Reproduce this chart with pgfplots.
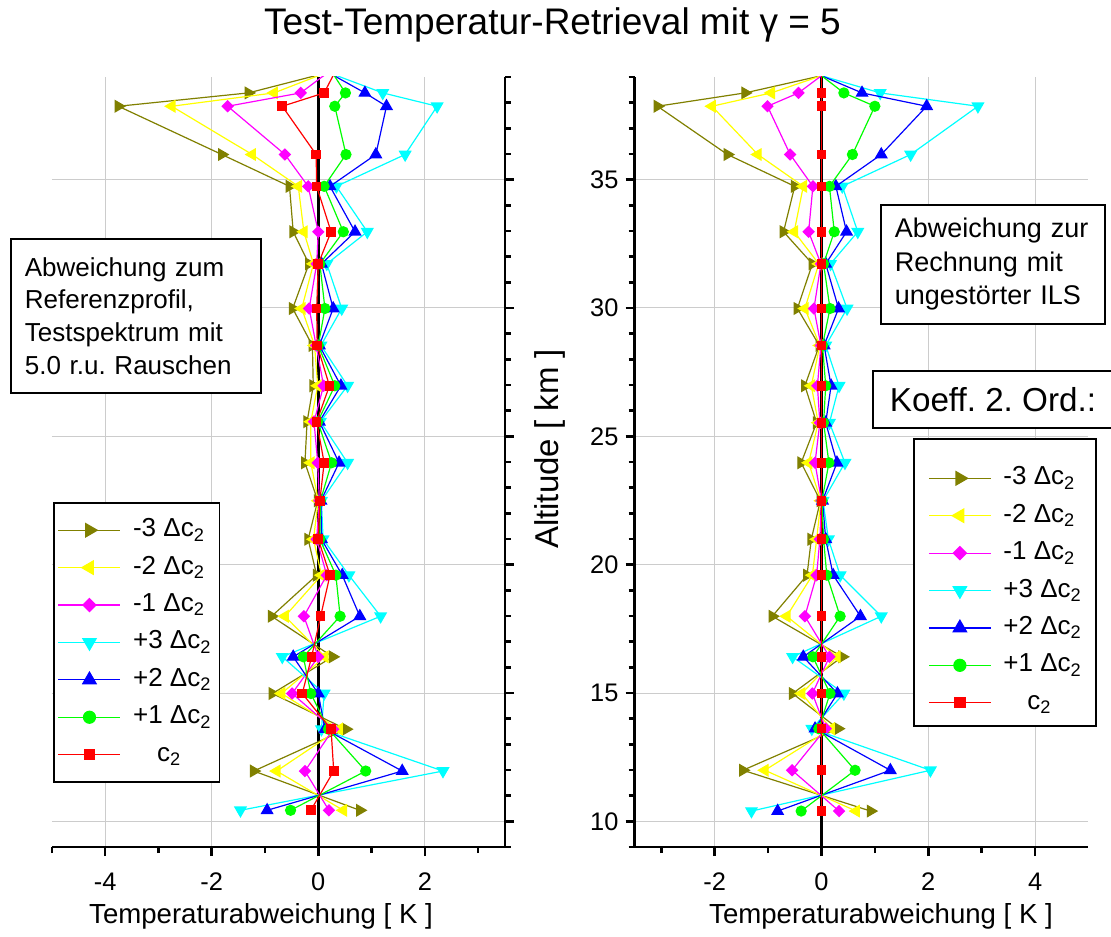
\documentclass[border=0pt]{standalone}
\usepackage{fontspec}
\setmainfont{Liberation Sans}
\usepackage{pgfplots}
\usepackage{pgfplotstable}
\pgfplotsset{compat=1.18}
\frenchspacing

\definecolor{olv}{RGB}{128,128,0}
\definecolor{yel}{RGB}{255,255,0}
\definecolor{mag}{RGB}{255,0,255}
\definecolor{cya}{RGB}{0,255,255}
\definecolor{blu}{RGB}{0,0,255}
\definecolor{grn}{RGB}{0,255,0}
\definecolor{rd}{RGB}{255,0,0}
\definecolor{gridgray}{RGB}{204,204,204}

% left panel: deviation from reference profile
\pgfplotstableread{
alt    m3     m2     m1     p3     p2     p1     c
39.5   0.79   0.56   0.39  -0.23  -0.09   0.16   0.39
38.38 -1.31  -0.83  -0.33   1.21   0.875  0.51   0.11
37.86 -3.75  -2.75  -1.70   2.23   1.28   0.31  -0.675
35.98 -1.81  -1.24  -0.625  1.63   1.08   0.52  -0.04
34.74 -0.54  -0.375 -0.19   0.34   0.22   0.11  -0.03
32.97 -0.47  -0.27   0.0    0.92   0.69   0.47   0.24
31.72 -0.175 -0.09  -0.03   0.16   0.06   0.03   0.0
29.98 -0.48  -0.31  -0.17   0.44   0.28   0.125 -0.03
28.54 -0.11  -0.07  -0.04   0.05   0.02   0.0   -0.02
26.97 -0.094 -0.01   0.10   0.55   0.425  0.31   0.21
25.57 -0.21  -0.14  -0.08   0.04   0.02  -0.01  -0.03
23.97 -0.25  -0.14  -0.01   0.55   0.39   0.25   0.11
22.49 -0.01   0.0    0.02   0.06   0.05   0.04   0.03
20.99 -0.19  -0.09  -0.03   0.09   0.06   0.03   0.0
19.59 -0.03   0.06   0.16   0.575  0.45   0.33   0.22
17.99 -0.875 -0.625 -0.27   1.17   0.78   0.41   0.044
16.41  0.27   0.125  0.0   -0.675 -0.47  -0.28  -0.125
14.98 -0.86  -0.69  -0.49   0.11   0.0   -0.14  -0.30
13.59  0.52   0.39   0.28   0.06   0.125  0.19   0.24
11.96 -1.21  -0.78  -0.25   2.34   1.575  0.89   0.29
10.43  0.78   0.47   0.20  -1.46  -0.96  -0.52  -0.14
}\leftdata

% right panel: deviation from undisturbed ILS
\pgfplotstableread{
alt    m3     m2     m1     p3     p2     p1     c
39.5   0.96   0.63   0.29  -0.74  -0.51  -0.28   0
38.38 -1.43  -0.94  -0.43   1.10   0.76   0.42   0
37.86 -3.07  -2.05  -1.01   2.93   1.97   1.00   0
35.98 -1.76  -1.19  -0.585  1.67   1.12   0.58   0
34.74 -0.50  -0.34  -0.16   0.39   0.27   0.15   0
32.97 -0.71  -0.51  -0.24   0.68   0.47   0.24   0
31.72 -0.17  -0.05  -0.01   0.17   0.08   0.04   0
29.98 -0.45  -0.31  -0.14   0.48   0.32   0.16   0
28.54 -0.04  -0.03  -0.01   0.08   0.05   0.02   0
26.97 -0.31  -0.19  -0.075  0.33   0.18   0.08   0
25.53 -0.09  -0.06  -0.03   0.15   0.08   0.04   0
23.97 -0.38  -0.24  -0.12   0.44   0.29   0.14   0
22.49 -0.02  -0.01   0.0    0.03   0.02   0.01   0
20.99 -0.19  -0.09  -0.03   0.13   0.08   0.04   0
19.59 -0.27  -0.17  -0.09   0.35   0.22   0.10   0
17.99 -0.92  -0.65  -0.31   1.12   0.73   0.35   0
16.41  0.39   0.29   0.15  -0.54  -0.34  -0.16   0
14.98 -0.54  -0.37  -0.17   0.42   0.30   0.16   0
13.61  0.31   0.18   0.08  -0.18  -0.12  -0.05   0
11.99 -1.47  -1.06  -0.55   2.04   1.29   0.63   0
10.40  0.92   0.65   0.33  -1.31  -0.82  -0.38   0
}\rightdata

\pgfplotsset{
  panel/.style={
    scale only axis, height=385pt,
    ymin=9, ymax=39,
    axis x line*=bottom,
    tick align=outside,
    axis line style={-, line width=1.3pt},
    tick style={black, line width=1.3pt},
    major tick length=4.5pt, minor tick length=3pt,
    grid=major,
    major grid style={line width=0.5pt, gridgray},
    ytick={10,15,...,35}, minor ytick={9,...,39},
    clip marker paths=true,
    ticklabel style={font=\fontsize{12.7}{15}\selectfont},
    xticklabel style={yshift=-5pt},
    /pgf/number format/assume math mode=true,
    legend cell align=left,
    legend image code/.code={\draw[mark repeat=2,mark phase=2] plot coordinates {(2.5pt,0pt) (18pt,0pt) (33.5pt,0pt)};},
    legend image post style={every mark/.append style={scale=1.2}},
    legend style={draw=black, line width=0.9pt, fill=white,
      font=\fontsize{13}{15.5}\selectfont, anchor=north west,
      nodes={inner ysep=2pt, inner xsep=2pt, text height=9.5pt, text depth=3pt},
      row sep=2.2pt, column sep=4pt, inner xsep=2pt, inner ysep=5.4pt},
  },
  sm3/.style={olv, line width=0.6pt, mark=triangle*, mark size=3.2pt, mark options={rotate=-90}},
  sm2/.style={yel, line width=0.6pt, mark=triangle*, mark size=3.2pt, mark options={rotate=90}},
  sm1/.style={mag, line width=0.6pt, mark=square*, mark size=1.9pt, mark options={rotate=45}},
  sp3/.style={cya, line width=0.6pt, mark=triangle*, mark size=3.2pt, mark options={rotate=180}},
  sp2/.style={blu, line width=0.6pt, mark=triangle*, mark size=3.2pt},
  sp1/.style={grn, line width=0.6pt, mark=*, mark size=2.5pt},
  sc/.style={rd, line width=0.6pt, mark=square*, mark size=2.1pt},
}

\begin{document}
\begin{tikzpicture}

\begin{axis}[panel,
  at={(25.9pt,44.5pt)}, anchor=south west, width=226.5pt,
  xmin=-5, xmax=3.5,
  axis y line*=right,
  xtick={-4,-2,0,2}, minor xtick={-5,-3,-1,1,3},
  yticklabels={},
  legend style={at={(0.0026,0.448)}},
]
\addplot[black, line width=1.5pt, forget plot] coordinates {(0,9) (0,39)};
\addplot[sm3] table[x=m3, y=alt] {\leftdata};
\addlegendentry{-3 Δc\textsubscript{2}}
\addplot[sm2] table[x=m2, y=alt] {\leftdata};
\addlegendentry{-2 Δc\textsubscript{2}}
\addplot[sm1] table[x=m1, y=alt] {\leftdata};
\addlegendentry{-1 Δc\textsubscript{2}}
\addplot[sp3] table[x=p3, y=alt] {\leftdata};
\addlegendentry{+3 Δc\textsubscript{2}}
\addplot[sp2] table[x=p2, y=alt] {\leftdata};
\addlegendentry{+2 Δc\textsubscript{2}}
\addplot[sp1] table[x=p1, y=alt] {\leftdata};
\addlegendentry{+1 Δc\textsubscript{2}}
\addplot[sc] table[x=c, y=alt] {\leftdata};
\addlegendentry{\hspace{12pt}c\textsubscript{2}}
\end{axis}

\begin{axis}[panel,
  at={(317.25pt,44.5pt)}, anchor=south west, width=227pt,
  xmin=-3.5, xmax=5,
  axis y line*=left,
  xtick={-2,0,2,4}, minor xtick={-3,-1,1,3},
  legend style={at={(0.6134,0.5314)}, inner xsep=5pt, inner ysep=3.35pt},
]
\addplot[black, line width=1.5pt, forget plot] coordinates {(0,9) (0,39)};
\addlegendimage{empty legend}
\addlegendentry[text height=2pt, text depth=0pt]{}
\addplot[sm3] table[x=m3, y=alt] {\rightdata};
\addlegendentry{-3 Δc\textsubscript{2}}
\addplot[sm2] table[x=m2, y=alt] {\rightdata};
\addlegendentry{-2 Δc\textsubscript{2}}
\addplot[sm1] table[x=m1, y=alt] {\rightdata};
\addlegendentry{-1 Δc\textsubscript{2}}
\addplot[sp3] table[x=p3, y=alt] {\rightdata};
\addlegendentry{+3 Δc\textsubscript{2}}
\addplot[sp2] table[x=p2, y=alt] {\rightdata};
\addlegendentry{+2 Δc\textsubscript{2}}
\addplot[sp1] table[x=p1, y=alt] {\rightdata};
\addlegendentry{+1 Δc\textsubscript{2}}
\addplot[sc] table[x=c, y=alt] {\rightdata};
\addlegendentry{\hspace{12pt}c\textsubscript{2}}
\end{axis}

\node[anchor=base, font=\fontsize{18.5}{22}\selectfont] at (276.25pt,450.5pt)
  {Test-Temperatur-Retrieval mit γ = 5};
\node[rotate=90, font=\fontsize{16.5}{20}\selectfont] at (275pt,243.5pt)
  {Altitude [ km ]};
\node[anchor=base, font=\fontsize{13.8}{16}\selectfont] at (130.5pt,6.5pt)
  {Temperaturabweichung [ K ]};
\node[anchor=base, font=\fontsize{13.8}{16}\selectfont] at (440.5pt,6.5pt)
  {Temperaturabweichung [ K ]};

\node[draw, line width=0.9pt, fill=white, anchor=north west, inner xsep=7pt,
  text width=111pt, minimum height=77pt, align=left,
  font=\fontsize{13}{16.3}\selectfont] at (5pt,349pt)
  {Abweichung zum\\Referenzprofil,\\Testspektrum mit\\\mbox{5.0 r.u. Rauschen}};
\node[draw, line width=0.9pt, fill=white, anchor=north west, inner xsep=7pt,
  text width=98pt, minimum height=59.5pt, align=left,
  font=\fontsize{13.5}{16.8}\selectfont] at (440pt,366pt)
  {Abweichung zur\\Rechnung mit\\ungestörter ILS};
\node[draw, line width=0.9pt, fill=white, anchor=north west, inner xsep=8.5pt,
  minimum width=119pt, minimum height=28.5pt, align=left,
  font=\fontsize{16.6}{20}\selectfont] at (436pt,283pt)
  {Koeff. 2. Ord.:};

\pgfresetboundingbox
\useasboundingbox (0pt,0pt) rectangle (555.5pt,468pt);
\end{tikzpicture}
\end{document}
